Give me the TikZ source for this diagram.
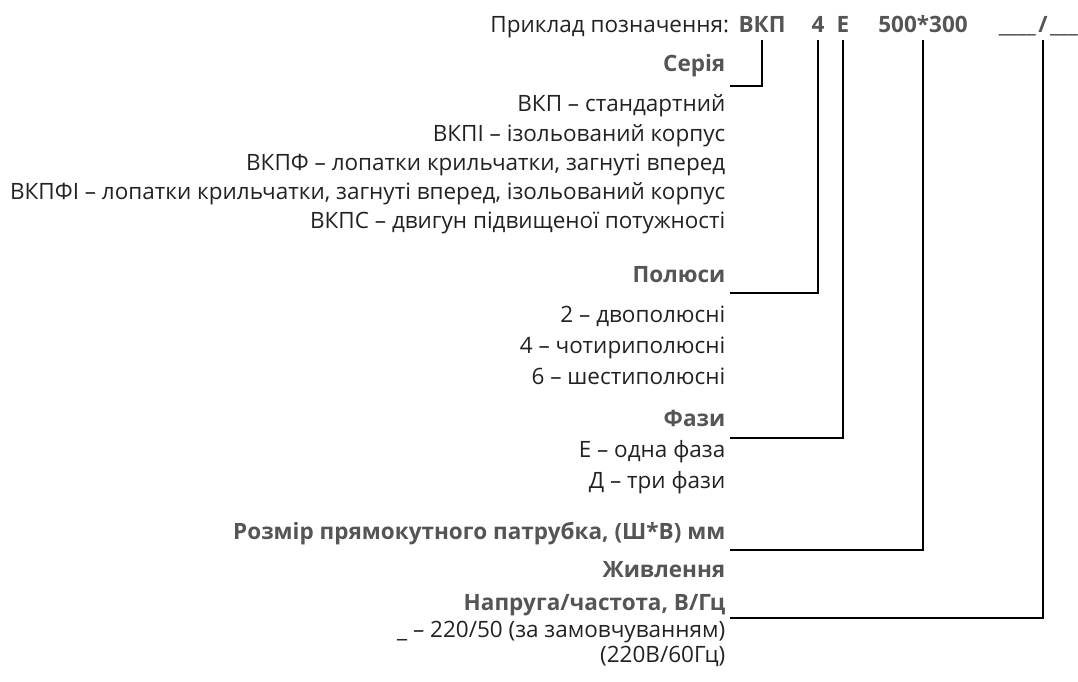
\documentclass[tikz,border=0pt]{standalone}
\usepackage{fontspec}
\setmainfont{Open Sans}
\definecolor{bodytext}{HTML}{222222}
\definecolor{headtext}{HTML}{555555}

\begin{document}
\begin{tikzpicture}
	[x=1pt,y=-1pt,line width=1.4pt,
		code node/.style={inner sep=0pt,outer ysep=7pt,anchor=base,text depth=0pt,font=\bfseries\fontsize{22.5}{27}\selectfont,text=headtext},
		head node/.style={inner sep=0pt,anchor=base east,font=\bfseries\fontsize{22.5}{27}\selectfont,text=headtext},
		item node/.style={inner sep=0pt,anchor=base east,font=\fontsize{22.5}{27}\selectfont,text=bodytext}]

	\useasboundingbox (0,0) rectangle (1078,682);

	% designation example
	\node[code node]  (ser)  at (762,33)  {ВКП};
	\node[code node]  (pol)  at (818,33)  {4};
	\node[code node]  (faz)  at (843,33)  {Е};
	\node[code node]  (razm) at (923,33)  {500*300};
	\node[code node]  (pit)  at (1043,33) {/};
	\node[code node,anchor=base east] (pitl) at ([xshift=-1pt]pit.base west) {\_\_\_\_};
	\node[code node,anchor=base west] (pitr) at ([xshift=1pt]pit.base east) {\_\_\_};
	\node[item node]  (title) at ([xshift=-8pt]ser.base west) {Приклад позначення:};

	% series
	\node[head node]  (serl) at (726,72)  {Серія};
	\node[item node]  (s1)   at (726,112) {ВКП – стандартний};
	\node[item node]  (s2)   at (726,141) {ВКПІ – ізольований корпус};
	\node[item node]  (s3)   at (726,170) {ВКПФ – лопатки крильчатки, загнуті вперед};
	\node[item node]  (s4)   at (726,199) {ВКПФІ – лопатки крильчатки, загнуті вперед, ізольований корпус};
	\node[item node]  (s5)   at (726,228) {ВКПС – двигун підвищеної потужності};

	% poles
	\node[head node]  (poll) at (726,282) {Полюси};
	\node[item node]  (p1)   at (726,322) {2 – двополюсні};
	\node[item node]  (p2)   at (726,353) {4 – чотириполюсні};
	\node[item node]  (p3)   at (726,384) {6 – шестиполюсні};

	% phases
	\node[head node]  (fazl) at (726,426) {Фази};
	\node[item node]  (f1)   at (726,457) {Е – одна фаза};
	\node[item node]  (f2)   at (726,488) {Д – три фази};

	% size and supply
	\node[head node]  (razml) at (726,539) {Розмір прямокутного патрубка, (Ш*В) мм};
	\node[head node]  (pitl1) at (726,577) {Живлення};
	\node[head node]  (pitl2) at (726,610) {Напруга/частота, В/Гц};
	\node[item node]  (v1)    at (726,637) {\_ – 220/50 (за замовчуванням)};
	\node[item node]  (v2)    at (726,662) {(220В/60Гц)};

	\coordinate (serk)  at (730,86);
	\coordinate (polk)  at (730,293);
	\coordinate (fazk)  at (730,438);
	\coordinate (razmk) at (730,550);
	\coordinate (pitk)  at (730,618);

	\draw (ser.south)  |- (serk);
	\draw (pol.south)  |- (polk);
	\draw (faz.south)  |- (fazk);
	\draw (razm.south) |- (razmk);
	\draw (pit.south)  |- (pitk);

\end{tikzpicture}
\end{document}
